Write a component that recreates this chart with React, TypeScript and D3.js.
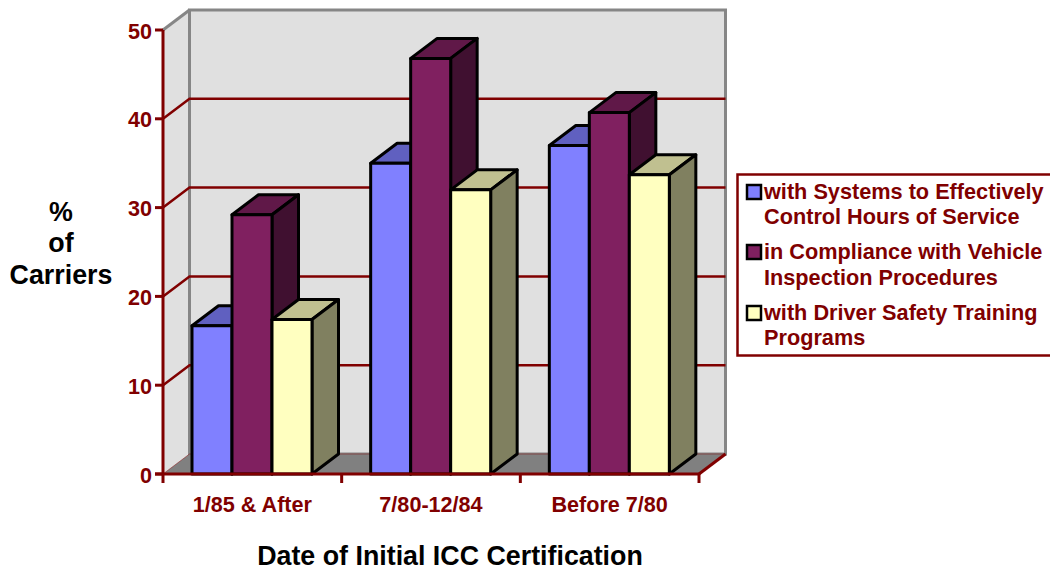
import React from "react";
import * as d3 from "d3";

const categories = ["1/85 & After", "7/80-12/84", "Before 7/80"];
const hoursOfService = [16.7, 35, 37];
const vehicleInspection = [29.2, 46.8, 40.7];
const driverTraining = [17.4, 32, 33.7];
const yTicks = [0, 10, 20, 30, 40, 50];

const seriesList = [
  { values: hoursOfService, front: "#8080ff", top: "#6060c0", side: "#404080", legend: ["with Systems to Effectively", "Control Hours of Service"] },
  { values: vehicleInspection, front: "#802060", top: "#601848", side: "#401030", legend: ["in Compliance with Vehicle", "Inspection Procedures"] },
  { values: driverTraining, front: "#ffffc0", top: "#c0c090", side: "#808060", legend: ["with Driver Safety Training", "Programs"] },
];

const MAROON = "#800000";
const FONT = "'Liberation Sans', Arial, sans-serif";
const DX = 26.5;
const DY = -20;

const y = d3.scaleLinear().domain([0, 50]).range([474, 30]);
const x = d3.scaleBand<string>().domain(categories).range([163, 699]);
const BAR_W = 40;
const BAR_OFFSET = 29;

const pts = (p: [number, number][]) => p.map((q) => q.join(",")).join(" ");

export default function App() {
  const left = x.range()[0];
  const right = x.range()[1];
  const base = y(0);
  const top = y(50);

  return (
    <svg width={1050} height={571} style={{ position: "absolute", left: 0, top: 0, fontFamily: FONT }}>
      {/* side wall, back wall, floor */}
      <polygon points={pts([[left, top], [left + DX, top + DY], [left + DX, base + DY], [left, base]])} fill="#e0e0e0" />
      <polygon points={pts([[left + DX, top + DY], [right + DX, top + DY], [right + DX, base + DY], [left + DX, base + DY]])} fill="#e0e0e0" stroke="#868686" strokeWidth={3} />
      <polygon points={pts([[left, base], [left + DX, base + DY], [right + DX, base + DY], [right, base]])} fill="#808080" />
      <line x1={left} y1={top} x2={left + DX} y2={top + DY} stroke="#868686" strokeWidth={3} />

      {/* gridlines wrap from the side wall onto the back wall */}
      {yTicks.filter((t) => t > 0 && t < 50).map((t) => (
        <polyline key={t} points={pts([[left, y(t)], [left + DX, y(t) + DY], [right + DX, y(t) + DY]])} fill="none" stroke={MAROON} strokeWidth={2.5} />
      ))}
      <polyline points={pts([[left, base], [left + DX, base + DY], [right + DX, base + DY]])} fill="none" stroke={MAROON} strokeWidth={0.8} opacity={0.6} />

      {/* columns */}
      {categories.map((c, ci) => (
        <g key={c}>
          {seriesList.map((s, si) => {
            const x0 = (x(c) as number) + BAR_OFFSET + si * BAR_W;
            const x1 = x0 + BAR_W;
            const yt = y(s.values[ci]);
            return (
              <g key={si} stroke="#000" strokeWidth={3} strokeLinejoin="round">
                <polygon points={pts([[x0, yt], [x0 + DX, yt + DY], [x1 + DX, yt + DY], [x1, yt]])} fill={s.top} />
                <polygon points={pts([[x1, yt], [x1 + DX, yt + DY], [x1 + DX, base + DY], [x1, base]])} fill={s.side} />
                <rect x={x0} y={yt} width={BAR_W} height={base - yt} fill={s.front} />
              </g>
            );
          })}
        </g>
      ))}

      {/* axes */}
      <g stroke={MAROON} strokeWidth={3} fill="none">
        <line x1={left} y1={top} x2={left} y2={base} />
        <line x1={left - 8} y1={base} x2={right} y2={base} />
        <line x1={right} y1={base} x2={right + DX} y2={base + DY} />
        {yTicks.map((t) => (
          <line key={t} x1={left - 8} y1={y(t)} x2={left} y2={y(t)} />
        ))}
        {[...categories.map((c) => x(c) as number), right].map((v) => (
          <line key={v} x1={v} y1={base} x2={v} y2={base + 9} />
        ))}
      </g>

      <g fill={MAROON} fontWeight="bold" fontSize={21.6}>
        {yTicks.map((t) => (
          <text key={t} x={152} y={y(t) + 8.5} textAnchor="end">{t}</text>
        ))}
        {categories.map((c) => (
          <text key={c} x={(x(c) as number) + x.bandwidth() / 2} y={512} textAnchor="middle">{c}</text>
        ))}
      </g>

      {/* axis titles */}
      <g fill="#000" fontWeight="bold" fontSize={26.8} textAnchor="middle">
        <text x={61} y={221}>%</text>
        <text x={61} y={252}>of</text>
        <text x={61} y={284}>Carriers</text>
        <text x={450} y={565}>Date of Initial ICC Certification</text>
      </g>

      {/* legend */}
      <rect x={737.5} y={174.5} width={330} height={181} fill="#fff" stroke={MAROON} strokeWidth={2.5} />
      {seriesList.map((s, i) => {
        const base1 = [199, 259, 320][i];
        const base2 = [224, 285, 345][i];
        return (
          <g key={i}>
            <rect x={747} y={base1 - 14} width={14} height={14} fill={s.front} stroke="#000" strokeWidth={2.5} />
            <g fill={MAROON} fontWeight="bold" fontSize={21.7}>
              <text x={764} y={base1}>{s.legend[0]}</text>
              <text x={764} y={base2}>{s.legend[1]}</text>
            </g>
          </g>
        );
      })}
    </svg>
  );
}
